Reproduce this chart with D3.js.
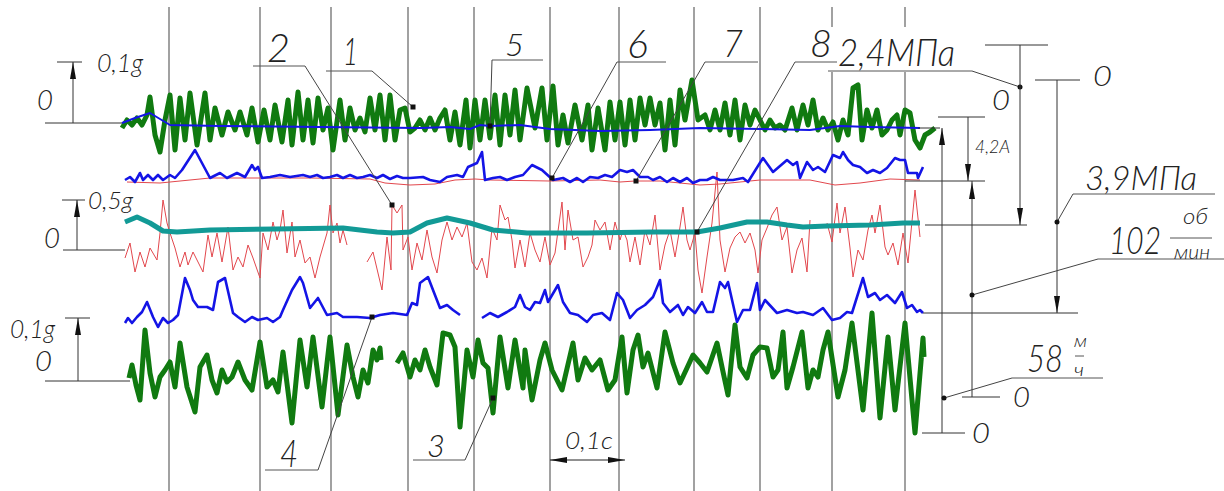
<!DOCTYPE html>
<html lang="ru">
<head>
<meta charset="UTF-8">
<title>Осциллограмма</title>
<script src="https://d3js.org/d3.v7.min.js"></script>
<style>
  body { margin: 0; background: #fff; }
  svg text { font-family: "Lato", "DejaVu Sans", sans-serif; font-style: italic; font-weight: 300; fill: #222; }
</style>
</head>
<body>
<div id="chart"></div>
<script>
// recorder samples at 140 Hz; points are [sample tick, deflection from channel zero, mm]
var FS = 140;
var gridTicks = [9.8, 28, 42.2, 57.6, 70.8, 86, 99.8, 114.8, 128, 142.4, 157];

// 1 - vibration, upper (green)
var green1 = [[0.4,-3],[1.4,5],[2.4,0],[3.4,7],[4.4,0],[5.4,10],[6,28],[7,-10],[8,-27],[9,5],[10,30],[11,-25],[12,27],[13,-15],[14,32],[15.4,-20],[17,32],[18,-15],[19,17],[20.4,-10],[21.6,13],[23,-5],[24,13],[25.4,-10],[26.4,17],[27.6,-17],[28.8,15],[30,-15],[31,20],[32.4,-17],[33.6,25],[34.4,-20],[35.6,33],[36.6,-15],[37.6,25],[38.6,-18],[39.6,27],[40.6,-5],[41.6,17],[42.6,-25],[44,25],[45,-15],[46,17],[47,-5],[48,7],[49,-7],[50,27],[51,-5],[52,30],[53,-15],[54,30],[55,-15],[56,15],[57,17],[58,-7],[59,-3],[60,5],[61,-5],[62,7],[63,-5],[64,7],[65,15],[66,-15],[67,13],[68,-20],[69.2,25],[70,-23],[71,25],[72,-15],[73,25],[74,-13],[75,30],[76,-20],[77,30],[78,-10],[79,35],[80,-15],[81.4,37],[83,-3],[84.4,37],[85.4,-15],[86.6,39],[87.6,-20],[88.6,10],[89.6,-18],[91,20],[92.4,-15],[93.6,20],[94.4,-25],[95.6,17],[97,-25],[98,23],[99,-15],[100,23],[101,-20],[102,25],[103,-15],[104,27],[105,0],[106,27],[107,0],[108,22],[109,-25],[110,25],[111,-20],[112,35],[113,5],[114.4,45],[115.6,5],[117,10],[118,-5],[119,15],[120,-5],[121,22],[122,-10],[123,25],[124,-15],[125,20],[126,0],[127,15],[128,5],[129,-5],[130,5],[131,-3],[132,0],[133,-5],[134.4,17],[135.4,-5],[136.6,20],[137.6,0],[138.6,25],[139.6,-5],[140.6,7],[141.6,-5],[142.6,3],[143.6,-15],[144.6,5],[145.6,-10],[146.6,37],[147.6,40],[148.4,-15],[149.4,15],[150.4,-3],[151.4,15],[152.4,-10],[153.4,-5],[154.4,5],[155.4,10],[156,-10],[157,15],[158,12],[159,-15],[160,-23],[161,-10],[162,-7],[163,-3]];

// 5 - pressure 2,4 MPa (blue, smooth)
var blue5 = [[0.4,2],[3,7],[6,12],[8,6],[10,0],[20,-1],[40,-2],[60,-3],[66,-2],[70,-4],[72,0],[74,-1],[80,0],[86,-4],[96,-6],[106,-5],[116,-3],[128,-4],[138,-5],[144,-1],[150,-2],[160,-3]];

// 6 - current 4,2 A (blue)
var blue6 = [[1,2],[2,5],[3,0],[4,9],[4.6,2],[5.6,7],[6.6,2],[7.6,7],[8.6,2],[10,7],[11,4],[12.4,12],[15,32],[18,4],[20,9],[21.4,4],[23.4,9],[25,5],[26.4,17],[27,12],[27.6,15],[28.4,4],[30,5],[32,7],[34,5],[36.6,7],[38,5],[39.4,7],[40.6,4],[42,5],[43.4,7],[44.6,4],[46,7],[47.4,4],[48.6,5],[50,7],[51.4,4],[52.6,7],[54,3],[55.4,6],[56.6,4],[58,4],[60.6,5],[62,2],[64,0],[65.4,5],[67.4,7],[68.6,5],[69.6,15],[71.4,19],[72.4,30],[73,2],[74.6,4],[76,5],[77.4,2],[79,5],[80.6,7],[82.4,17],[84.4,12],[86.6,2],[88.6,4],[90,0],[91.4,4],[92.6,0],[94,5],[95.6,4],[97,7],[98.4,5],[100,12],[101.4,10],[102.6,12],[104,5],[105.6,5],[106.6,2],[108,5],[109.4,0],[110.6,4],[112,0],[113.4,4],[114.6,-1],[116,2],[117.4,2],[118.6,5],[120,2],[122.6,2],[124.6,4],[125.6,0],[128.6,24],[130.6,10],[133.4,22],[134.6,17],[135.4,20],[136,4],[137.4,20],[138.6,12],[139.6,15],[141,10],[142.6,27],[144,24],[144.6,30],[145.6,22],[146.6,17],[148,15],[149.4,9],[150.6,12],[152,9],[153.4,14],[155,24],[156,22],[157,22],[157.6,9],[159.4,9],[159.6,4],[160.6,15]];

// 7 - thin red near channel 6
var red7 = [[1.4,0],[8,-1],[14,2],[18,4],[27,4],[38,4],[50,3],[53,-1],[58,-3],[63,-2],[67,2],[71,3],[74,2],[86,1],[96,2],[100,0],[103,1],[108,1],[116,-3],[120,-2],[128,2],[138,2],[143,-3],[148,-1],[154,3],[160,2]];

// 8 - pressure 3,9 MPa (teal, smooth)
var teal8 = [[1,3],[3.4,8],[6,2],[8.6,-6],[11.4,-7],[18,-5],[31,-4],[44.6,-3],[51.4,-7],[54.6,-8],[58,-7],[61.4,2],[65.4,7],[70,2],[74.6,-5],[81.4,-8],[93.4,-8],[106.6,-7],[115.4,-7],[120,-3],[125.4,3],[129.4,3],[133.4,0],[136.6,-2],[141.4,-1],[150,0],[156.6,2],[160,2]];

// 2 - vibration 0,5g (thin red)
var red2 = [[1,-8],[2,7],[3,-22],[4,-2],[5,-17],[6,2],[7.4,-10],[8,17],[8.6,50],[9.4,27],[10,17],[11,2],[12,-17],[13,-2],[13.6,-15],[14.6,-2],[15.6,-12],[16.6,-22],[17.6,15],[18.4,-7],[19.4,17],[20.4,-12],[21.6,23],[22.6,-20],[23.6,-7],[24.6,-17],[25.6,5],[26.6,-8],[28,-28],[28.6,17],[29.6,0],[30.6,28],[31.4,10],[32,20],[32.6,40],[33.4,-3],[34.4,28],[35,-7],[36,10],[37,-13],[38,-7],[39,-28],[40,-7],[41.4,17],[42,45],[42.6,17],[43.4,27],[44,7],[44.6,20],[45.4,5],null,[49.4,-12],[50.6,-2],[52.4,-40],[53.4,13],[54.2,-20],[54.4,45],[55.4,37],[56.4,45],[56.6,0],[57.6,13],[58.4,-20],[59.4,7],[60.4,-10],[61.4,20],[62.4,-7],[63.4,-23],[64.4,10],[65.4,28],[66.4,10],[67.4,23],[68.4,13],[69.4,27],[70.4,-12],[71.4,-20],[72.4,-8],[73.4,-28],[74.4,22],[75.4,10],[76,45],[77,30],[77.6,33],[78.4,10],[79,-18],[80,10],[81,-17],[82,17],[83,0],[84,-12],[85,13],[86,-15],[87,-3],[88.4,48],[89,0],[89.6,40],[90.6,10],[91.6,13],[92.6,-17],[93.6,-7],[94.4,5],[95,30],[96,20],[97,28],[98,0],[99,28],[100,10],[100.6,20],[101.4,10],[102,-12],[103,13],[104,-15],[105,20],[106,5],[107,35],[108,-20],[109,5],[110,20],[111,-7],[112,23],[112.6,43],[113.4,10],[114,0],[115,17],[115.6,-20],[116.4,-43],[117.4,-7],[118.4,27],[119.4,78],[120,10],[121,-22],[122,2],[123,13],[124,18],[125,7],[126,17],[127,0],[127.6,-23],[128.4,10],[129.4,22],[130.4,35],[131.4,43],[132.4,10],[133.4,23],[134.4,-23],[135.4,0],[136.4,12],[137.4,-22],[138,30],null,[141.4,27],[142.4,8],[143.4,47],[144,17],[145,43],[146,2],[146.6,-27],[147.6,0],[148.6,-10],[149.6,20],[150.4,35],[151,17],[152,45],[153,3],[153.6,-5],[154.6,7],[155.6,-15],[156.6,17],[157.6,-13],[159,60],[160,13]];

// 4 - speed 102 rpm (blue)
var blue4 = [[1,-8],[1.6,-3],[2.4,-8],[3.4,-2],[4.4,3],[5.4,13],[6.6,-2],[7.6,-12],[8.6,-3],[9.6,-8],[10.6,-5],[11.6,0],[13,37],[14,25],[14.6,15],[15.6,8],[17.4,8],[18.6,5],[19.6,33],[21,37],[22.6,2],[23.6,-2],[25,-7],[26.4,-2],[27.6,-5],[29.4,-3],[30.6,-7],[32,-2],[32.6,5],[34.4,25],[36,38],[36.6,32],[38,7],[39.6,17],[41.4,0],[43.4,2],[44.6,-2],[47.4,-2],[50,-3],[52,0],[54.6,2],[57.4,0],[58.4,12],[59.4,10],[60,32],[61.6,38],[62.6,25],[64,7],[65.4,10],[66.6,5],[68,0],null,[72.4,-3],[74,2],[75.6,-2],[77.4,3],[79,8],[80,20],[81,8],[82,5],[83,13],[84,12],[85,25],[85.6,13],[87.6,30],[88.6,13],[90,2],[91.6,0],[93.4,-7],[94.6,0],[96.4,2],[98,-5],[99.4,22],[100.6,15],[102,-3],[103.4,5],[105,10],[106.6,18],[108,35],[108.6,12],[110,3],[111.6,10],[112.6,0],[113.6,8],[115,2],[116.4,13],[117.4,3],[118.6,3],[120,33],[121,27],[121.6,33],[123.4,-7],[124.6,5],[126,5],[127.4,32],[128,5],[129,15],[131.4,2],[133.4,5],[135.4,2],[136.6,3],[138.6,0],[140.6,7],[142.4,-5],[144,-3],[145.4,3],[146.4,2],[147.4,18],[148.6,37],[149.6,18],[151,22],[152,15],[153.4,20],[155,12],[156.4,23],[157.4,7],[158.4,10],[159.4,3],[160,5],[160.6,2]];

// 3 - vibration, lower (green)
var green3 = [[1.8,2],[2.4,15],[3.2,-5],[4,-20],[5,50],[6,7],[7,-17],[8,3],[9,10],[10,18],[11,-7],[12,37],[13.4,-7],[15,-32],[16,13],[17.4,25],[18.4,0],[19.4,-13],[20.4,10],[21.4,-2],[22.4,3],[23.6,18],[25,0],[26.4,-10],[28,38],[29.4,-7],[30.6,0],[31.6,-12],[32.6,28],[34.4,-43],[36,40],[37.4,-7],[38.6,43],[40.4,-27],[42,43],[43.6,-35],[45.4,35],[46.6,3],[47.6,-17],[48.6,10],[49.6,-3],[50.6,30],[51.4,20],[52,32],[52.2,20],null,[55.4,17],[56.6,27],[58,3],[59,20],[60,10],[61,30],[62,13],[63.4,-5],[64.6,47],[66,45],[67,33],[68,-47],[69.4,30],[70.6,3],[71.6,40],[72.6,17],[73.6,12],[74.6,-33],[76,43],[77.6,-8],[79,40],[80.6,-8],[81,30],[82.4,-20],[84,20],[85,37],[86.4,10],[88.4,-10],[90.6,37],[91.6,0],[93,22],[94.4,10],[96,20],[97.6,-10],[99,0],[100.4,43],[101.4,-13],[102.6,30],[103.6,45],[104.6,13],[105.6,27],[107.4,-8],[109,48],[110.6,17],[112,-3],[113.4,12],[114.6,25],[116,17],[117.4,8],[119.4,37],[120.4,13],[121.6,-15],[123,55],[124,13],[125.4,2],[126.6,25],[128,33],[129.4,32],[130.6,3],[131.6,10],[132.6,48],[133.4,-8],[134.6,13],[136.4,48],[137.6,-8],[138.6,10],[139.6,3],[140.6,30],[141.6,48],[143.6,-17],[145,10],[146.4,57],[148.6,-30],[150.4,67],[152,-38],[153.6,43],[155,-30],[157,57],[159,-53],[160.6,42],[160.8,23]];

// callout numbers and the trace point each one points to [tick, mm]
var calloutText = ["1", "2", "3", "4", "5", "6", "7", "8"];
var calloutAt = [[58.6, 18], [54.4, 45], [74.6, -18], [50.4, -2], [74, -1], [86.4, 4], [103.2, 1], [115.4, -7]];

var W = 1224, H = 491;
var svg = d3.select("#chart").append("svg").attr("width", W).attr("height", H);

var x = d3.scaleLinear().domain([0, 1.2]).range([120, 960]);
function chan(zero) { return d3.scaleLinear().domain([0, 100]).range([zero, zero - 100]); }

var ch = {
    green1: chan(125), blue5: chan(125), blue6: chan(182), red7: chan(182),
    teal8: chan(225), red2: chan(250), blue4: chan(315), green3: chan(380)
};

// time grid
svg.append("g").selectAll("line").data(gridTicks).enter().append("line")
    .attr("x1", function(d) { return x(d / FS); })
    .attr("x2", function(d) { return x(d / FS); })
    .attr("y1", 7).attr("y2", H)
    .attr("stroke", "#8a8a8a").attr("stroke-width", 1.6);
svg.append("rect").attr("x", 800).attr("y", 27).attr("width", 165).attr("height", 45).attr("fill", "#fff");

// traces
var traces = [
    {data: red2, y: ch.red2, color: "#e2474d", w: 1},
    {data: teal8, y: ch.teal8, color: "#129a96", w: 5},
    {data: red7, y: ch.red7, color: "#e2474d", w: 1},
    {data: blue6, y: ch.blue6, color: "#1414e6", w: 2.6},
    {data: green1, y: ch.green1, color: "#107a10", w: 5},
    {data: blue5, y: ch.blue5, color: "#1414e6", w: 2},
    {data: blue4, y: ch.blue4, color: "#1414e6", w: 2.6},
    {data: green3, y: ch.green3, color: "#107a10", w: 5}
];
traces.forEach(function(tr) {
    var line = d3.line()
        .defined(function(d) { return d != null; })
        .x(function(d) { return x(d[0] / FS); })
        .y(function(d) { return tr.y(d[1]); });
    svg.append("path").datum(tr.data)
        .attr("d", line)
        .attr("fill", "none")
        .attr("stroke", tr.color)
        .attr("stroke-width", tr.w)
        .attr("stroke-linejoin", "round");
});

// annotation helpers
var ann = svg.append("g");
function seg(x1, y1, x2, y2, c) {
    ann.append("line").attr("x1", x1).attr("y1", y1).attr("x2", x2).attr("y2", y2)
        .attr("stroke", c || "#333").attr("stroke-width", 1);
}
function head(xt, yt, dir) {
    var L = 17, w = 3, p;
    if (dir == "up") p = [[xt, yt], [xt - w, yt + L], [xt + w, yt + L]];
    if (dir == "down") p = [[xt, yt], [xt - w, yt - L], [xt + w, yt - L]];
    if (dir == "left") p = [[xt, yt], [xt + L, yt - w], [xt + L, yt + w]];
    if (dir == "right") p = [[xt, yt], [xt - L, yt - w], [xt - L, yt + w]];
    ann.append("polygon").attr("points", p.join(" ")).attr("fill", "#111");
}
function txt(s, x0, y0, size, len) {
    ann.append("text").attr("x", x0).attr("y", y0).attr("font-size", size)
        .attr("textLength", len).attr("lengthAdjust", "spacingAndGlyphs").text(s);
}
function dot(cx, cy, sq) {
    if (sq) ann.append("rect").attr("x", cx - 2.5).attr("y", cy - 2.5).attr("width", 5).attr("height", 5).attr("fill", "#111");
    else ann.append("circle").attr("cx", cx).attr("cy", cy).attr("r", 2.5).attr("fill", "#111");
}

// left scale marks
seg(57, 62, 82, 62); seg(73, 123, 73, 62); head(73, 62, "up");
seg(45, 123, 122, 123);
txt("0,1g", 97, 72, 26, 46); txt("0", 37, 110, 28, 16);
seg(62, 200, 85, 200); seg(77, 250, 77, 200); head(77, 200, "up");
seg(63, 250, 125, 250);
txt("0,5g", 88, 209, 24, 45); txt("0", 44, 248, 28, 16);
seg(65, 318, 90, 318); seg(78, 381, 78, 318); head(78, 318, "up");
seg(45, 381, 130, 381);
txt("0,1g", 10, 338, 26, 45); txt("0", 35, 371, 28, 17);

// numbered callouts: text position, shelf and leader
var calloutLayout = {
    "1": {tx: 343, ty: 65, fs: 38, tw: 15, s0: 326, s1: 372, sy: 71, from: 372},
    "2": {tx: 267, ty: 62, fs: 40, tw: 23, s0: 253, s1: 305, sy: 66, from: 305},
    "3": {tx: 427, ty: 457, fs: 32, tw: 18, s0: 413, s1: 465, sy: 460, from: 465},
    "4": {tx: 280, ty: 467, fs: 38, tw: 18, s0: 265, s1: 318, sy: 470, from: 318},
    "5": {tx: 505, ty: 56, fs: 32, tw: 19, s0: 492, s1: 543, sy: 60, from: 492},
    "6": {tx: 627, ty: 58, fs: 40, tw: 21, s0: 617, s1: 666, sy: 62, from: 617},
    "7": {tx: 723, ty: 57, fs: 38, tw: 20, s0: 705, s1: 758, sy: 62, from: 705},
    "8": {tx: 810, ty: 57, fs: 38, tw: 22, s0: 795, s1: 837, sy: 62, from: 795}
};
var calloutChan = {"1": ch.green1, "2": ch.red2, "3": ch.green3, "4": ch.blue4,
    "5": ch.blue5, "6": ch.blue6, "7": ch.red7, "8": ch.teal8};
calloutText.forEach(function(n, i) {
    var L = calloutLayout[n];
    var px = x(calloutAt[i][0] / FS), py = calloutChan[n](calloutAt[i][1]);
    seg(L.s0, L.sy, L.s1, L.sy, "#555");
    seg(L.from, L.sy, px, py, "#444");
    dot(px, py, true);
    txt(n, L.tx, L.ty, L.fs, L.tw);
});

// time scale 0,1 s
seg(550, 460, 625, 460, "#222"); head(550, 460, "left"); head(625, 460, "right");
txt("0,1с", 565, 449, 24, 48);

// right scales
txt("2,4МПа", 838, 66, 38, 117);
seg(828, 71, 972, 71, "#555"); seg(972, 71, 1020, 87, "#444"); dot(1020, 87);
seg(985, 45, 1048, 45); seg(1020, 45, 1020, 225); head(1020, 225, "down");
seg(925, 225, 1027, 225);
txt("0", 992, 110, 28, 18);

seg(1035, 80, 1080, 80); seg(1057, 80, 1057, 313); head(1057, 313, "down");
seg(923, 313, 1078, 313);
txt("0", 1093, 86, 28, 19);
txt("3,9МПа", 1085, 190, 34, 112);
seg(1073, 194, 1215, 194, "#555"); seg(1073, 194, 1057, 222, "#444"); dot(1057, 222);

seg(938, 117, 985, 117); seg(968, 117, 968, 181); head(968, 181, "down");
seg(905, 181, 985, 181);
txt("4,2А", 975, 153, 18, 35);

seg(972, 181, 972, 397); head(972, 182, "up");
seg(962, 397, 1000, 397);
txt("0", 1013, 407, 28, 17);
seg(972, 295, 1098, 259, "#444"); seg(1098, 259, 1224, 259, "#555"); dot(972, 295);
txt("102", 1109, 254, 38, 52);
txt("об", 1183, 224, 21, 25);
seg(1170, 238, 1212, 238, "#555");
txt("мин", 1174, 259, 19, 36);

seg(918, 128, 940, 128); seg(942, 128, 942, 433); head(942, 128, "up");
seg(922, 433, 965, 433);
txt("0", 972, 443, 28, 18);
seg(944, 398, 1012, 378, "#444"); seg(1012, 378, 1103, 378, "#555"); dot(944, 398);
txt("58", 1027, 372, 38, 36);
txt("м", 1074, 347, 18, 13);
seg(1075, 356, 1084, 356, "#555");
txt("ч", 1074, 376, 18, 10);
</script>
</body>
</html>
